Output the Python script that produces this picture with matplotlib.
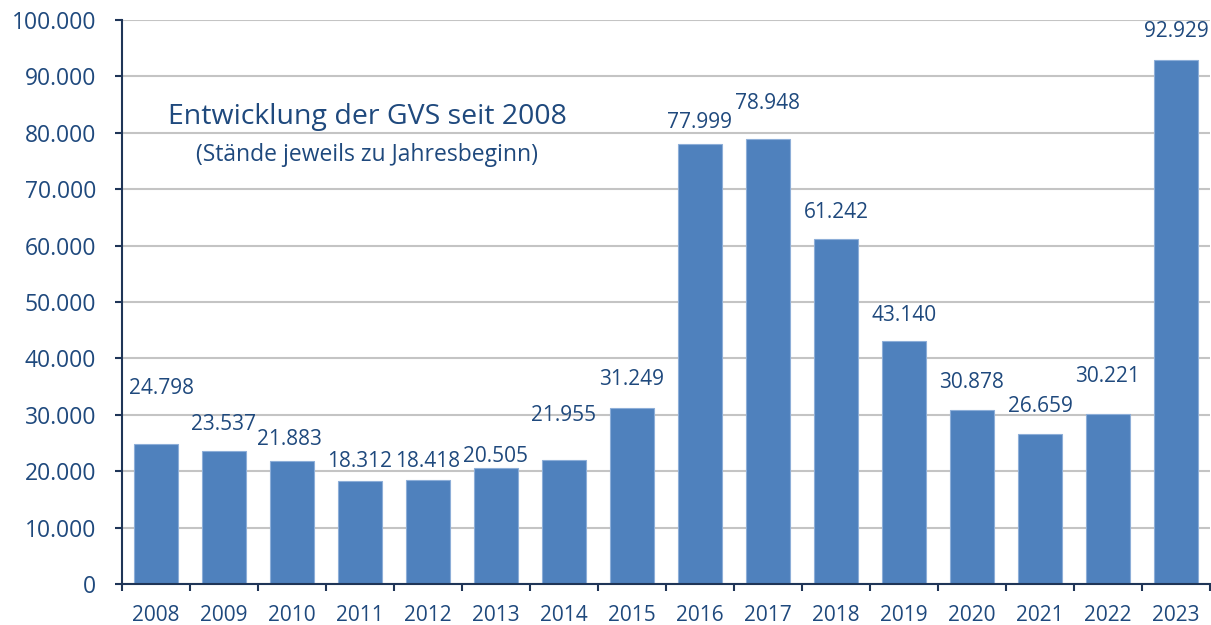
import matplotlib
matplotlib.use("Agg")
import matplotlib.pyplot as plt
from matplotlib.ticker import FixedLocator, FuncFormatter

years = ["2008", "2009", "2010", "2011", "2012", "2013", "2014", "2015",
         "2016", "2017", "2018", "2019", "2020", "2021", "2022", "2023"]
values = [24798, 23537, 21883, 18312, 18418, 20505, 21955, 31249,
          77999, 78948, 61242, 43140, 30878, 26659, 30221, 92929]

# label placement above each bar (pixels: vertical gap, horizontal shift)
label_dy = [56, 27, 21, 19, 19, 12, 45, 28, 22, 35, 26, 25, 27, 27, 37, 28]
label_dx = [6, 0, -3, 0, 0, 0, 0, 0, 0, 0, 0, 0, 0, 0, 0, 0]

TEXT = "#1F497D"
BAR = "#4F81BD"
AXIS = "#1F3557"
PX = 72 / 100  # points per pixel at 100 dpi

plt.rcParams["font.family"] = ["Open Sans", "DejaVu Sans"]

fig = plt.figure(figsize=(12.11, 6.25), dpi=100)
ax = fig.add_axes([122 / 1211, 1 - 584 / 625, (1210 - 122) / 1211, 564 / 625])

x = list(range(len(years)))
ax.bar(x, values, width=0.66, color=BAR, edgecolor="#8DAED8", linewidth=0.8, zorder=3)

ax.set_xlim(-0.5, len(years) - 0.5)
ax.set_ylim(0, 100000)

# y axis
ax.set_yticks(range(0, 100001, 10000))
ax.yaxis.set_major_formatter(FuncFormatter(lambda v, p: f"{int(v):,}".replace(",", ".")))
ax.grid(axis="y", color="#C4C4C4", linewidth=1.5, zorder=0)
ax.tick_params(axis="y", direction="out", length=7 * PX, width=1.5, color=AXIS,
               labelsize=16.5, labelcolor=TEXT, pad=19 * PX)

# x axis: ticks between categories, labels centred under bars
ax.xaxis.set_major_locator(FixedLocator([i - 0.5 for i in range(len(years) + 1)]))
ax.xaxis.set_major_formatter(FuncFormatter(lambda v, p: ""))
ax.xaxis.set_minor_locator(FixedLocator(x))
ax.set_xticklabels(years, minor=True)
ax.tick_params(axis="x", which="major", direction="out", length=7 * PX, width=1.5, color=AXIS)
ax.tick_params(axis="x", which="minor", length=0, labelsize=15, labelcolor=TEXT, pad=21 * PX)

for side in ("top", "right"):
    ax.spines[side].set_visible(False)
for side in ("left", "bottom"):
    ax.spines[side].set_color(AXIS)
    ax.spines[side].set_linewidth(1.5)
    ax.spines[side].set_zorder(4)

# value labels
for xi, v, dy, dx in zip(x, values, label_dy, label_dx):
    ax.annotate(f"{v:,}".replace(",", "."), xy=(xi, v), xytext=(dx * PX, dy * PX),
                textcoords="offset points", ha="center", va="center",
                fontsize=15, color=TEXT, zorder=5)

fig.text(367 / 1211, 1 - 117 / 625, "Entwicklung der GVS seit 2008",
         ha="center", va="center", fontsize=20.5, color=TEXT)
fig.text(367 / 1211, 1 - 155 / 625, "(Stände jeweils zu Jahresbeginn)",
         ha="center", va="center", fontsize=16.5, color=TEXT)

fig.savefig("out.png", dpi=100)
